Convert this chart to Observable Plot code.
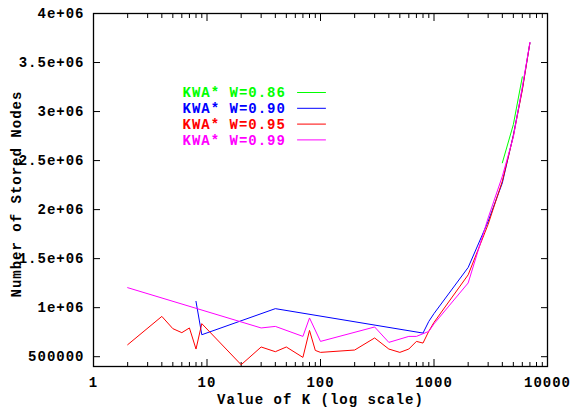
<!DOCTYPE html>
<html>
<head>
<meta charset="utf-8">
<script src="https://cdn.jsdelivr.net/npm/d3@7"></script>
<script src="https://cdn.jsdelivr.net/npm/@observablehq/plot@0.6"></script>
<style>
  html, body { margin: 0; padding: 0; background: #fff; }
</style>
</head>
<body>
<div id="chart"></div>
<script>
// Series names and line colours
const seriesNames = ["KWA* W=0.86", "KWA* W=0.90", "KWA* W=0.95", "KWA* W=0.99"];
const seriesColors = ["#00ff00", "#0000ff", "#ff0000", "#ff00ff"];

// W = 0.86
const kW086 = [4000, 5000, 6000];
const nodesW086 = [2477000, 2867000, 3354000];

// W = 0.90
const kW090 = [8, 9, 40, 800, 900, 1000, 2000, 3000, 4000, 5000, 6000, 7000];
const nodesW090 = [1064000, 724000, 990000, 741000, 860000, 940000, 1410000, 1880000, 2272000, 2760000, 3230000, 3700000];

// W = 0.95
const kW095 = [2, 4, 5, 6, 7, 8, 9, 20, 30, 40, 50, 70, 80, 90, 100, 200, 300, 400, 500, 600, 700, 800, 900, 1000, 2000, 3000, 4000, 5000, 6000, 7000];
const nodesW095 = [622000, 911000, 786000, 745000, 793000, 578000, 837000, 418000, 599000, 551000, 599000, 493000, 768000, 564000, 544000, 568000, 691000, 578000, 544000, 578000, 656000, 639000, 760000, 850000, 1335000, 1850000, 2290000, 2750000, 3220000, 3700000];

// W = 0.99
const kW099 = [2, 30, 40, 70, 80, 100, 300, 400, 600, 700, 900, 1000, 2000, 3000, 4000, 5000, 6000, 7000];
const nodesW099 = [1204000, 793000, 809000, 707000, 895000, 656000, 803000, 646000, 707000, 707000, 758000, 835000, 1252000, 1915000, 2340000, 2740000, 3250000, 3705000];

// Axis ticks and their labels
const xMajorTicks = [1, 10, 100, 1000, 10000];
const xTickLabels = ["1", "10", "100", "1000", "10000"];
const xMinorTicks = [2, 3, 4, 5, 6, 7, 8, 9, 20, 30, 40, 50, 60, 70, 80, 90, 200, 300, 400, 500, 600, 700, 800, 900, 2000, 3000, 4000, 5000, 6000, 7000, 8000, 9000];
const yTicks = [500000, 1000000, 1500000, 2000000, 2500000, 3000000, 3500000, 4000000];
const yTickLabels = ["500000", "1e+06", "1.5e+06", "2e+06", "2.5e+06", "3e+06", "3.5e+06", "4e+06"];

// Long-format table for the line mark
const seriesData = [[kW086, nodesW086], [kW090, nodesW090], [kW095, nodesW095], [kW099, nodesW099]];
const rows = [];
seriesData.forEach(([ks, vs], i) => {
  ks.forEach((k, j) => rows.push({series: seriesNames[i], K: k, nodes: vs[j]}));
});

// A plain line segment used for the key samples
const lineShape = {
  draw(context, l) {
    context.moveTo(0, 0);
    context.lineTo(0, -l);
  }
};

const font = "'Liberation Mono', 'DejaVu Sans Mono', monospace";

const chart = Plot.plot({
  width: 572,
  height: 411,
  marginLeft: 93,
  marginRight: 25,
  marginTop: 13,
  marginBottom: 45,
  style: {fontFamily: font, fontSize: "14px", fontWeight: "bold", letterSpacing: "1px", background: "#fff", color: "#000"},
  x: {type: "log", domain: [1, 10000]},
  y: {domain: [400000, 4000000]},
  color: {domain: seriesNames, range: seriesColors},
  marks: [
    // inward ticks on all four sides
    Plot.axisX(xMajorTicks, {anchor: "bottom", tickSize: -7, tickPadding: 18, label: null,
      tickFormat: d => xTickLabels[xMajorTicks.indexOf(d)]}),
    Plot.axisX(xMinorTicks, {anchor: "bottom", tickSize: -4, fill: "none", label: null}),
    Plot.axisX(xMajorTicks, {anchor: "top", tickSize: -7, fill: "none", label: null}),
    Plot.axisX(xMinorTicks, {anchor: "top", tickSize: -4, fill: "none", label: null}),
    Plot.axisY(yTicks, {anchor: "left", tickSize: -7, tickPadding: 16, label: null,
      tickFormat: d => yTickLabels[yTicks.indexOf(d)]}),
    Plot.axisY(yTicks, {anchor: "right", tickSize: -7, fill: "none", label: null}),

    Plot.line(rows, {x: "K", y: "nodes", z: "series", stroke: "series", strokeWidth: 1}),

    Plot.frame({stroke: "#000", strokeWidth: 1.3}),

    // key
    ...seriesNames.flatMap((name, i) => [
      Plot.text([name], {frameAnchor: "top-left", text: d => d, textAnchor: "start", lineAnchor: "middle",
        dx: 89, dy: 79.5 + i * 15.8, fill: seriesColors[i]}),
      Plot.vector([name], {frameAnchor: "top-left", dx: 204, dy: 79 + i * 15.8,
        rotate: 90, length: 28, anchor: "start", shape: lineShape,
        stroke: seriesColors[i], strokeWidth: 1})
    ]),

    // axis titles
    Plot.text(["Number of Stored Nodes"], {frameAnchor: "left", text: d => d, rotate: -90,
      textAnchor: "start", lineAnchor: "middle", dx: -76.5, dy: 107.5, ariaLabel: "y-title"}),
    Plot.text(["Value of K (log scale)"], {frameAnchor: "bottom", text: d => d,
      textAnchor: "middle", lineAnchor: "middle", dy: 33.5, ariaLabel: "x-title"})
  ]
});

// the vertical title is set with a wider letter pitch than the other labels
d3.select(chart).selectAll('g[aria-label="y-title"] text')
  .style("letter-spacing", "0px")
  .attr("textLength", 268)
  .attr("lengthAdjust", "spacing");
d3.select(chart).selectAll('g[aria-label="x-title"] text')
  .style("letter-spacing", "0px")
  .attr("textLength", 208)
  .attr("lengthAdjust", "spacing");
document.getElementById("chart").appendChild(chart);
</script>
</body>
</html>
